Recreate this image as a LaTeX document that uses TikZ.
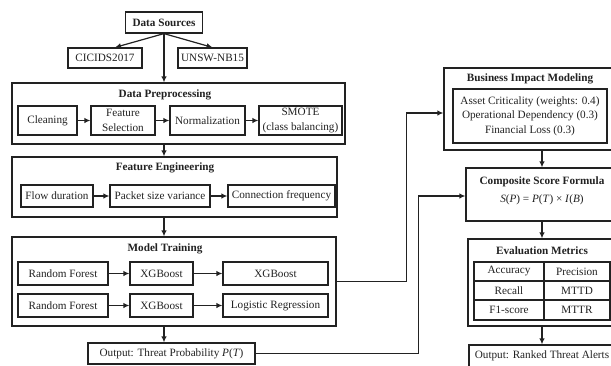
\documentclass[tikz,border=0pt]{standalone}
\usepackage{fontspec}
\setmainfont{Liberation Serif}
\usetikzlibrary{arrows.meta}
\definecolor{ink}{HTML}{222222}
\tikzset{
  txt/.style={font=\fontsize{11.2}{14.5}\selectfont, text=ink, align=center, inner sep=0pt},
  box/.style={txt, draw=ink, line width=1.2pt},
  frame/.style={draw=ink, line width=1.2pt, inner sep=0pt},
  ttl/.style={txt, font=\fontsize{11.2}{14.5}\selectfont\bfseries},
  arr/.style={draw=ink, line width=1.2pt, -{Latex[length=6pt,width=5.5pt]}},
  cell/.style={box, minimum height=19pt}
}
\begin{document}
\begin{tikzpicture}[x=1pt,y=-1pt]
\useasboundingbox (0,0) rectangle (611,365);
\fill[white] (0,0) rectangle (611,365);
\clip (0,0) rectangle (611,365);

% ---- data sources ----
\node[box, font=\fontsize{11.2}{14.5}\selectfont\bfseries, minimum width=77pt, minimum height=21pt] (src) at (164,22.5) {Data Sources};
\node[box, minimum width=74pt, minimum height=20pt] (cic) at (105,58) {CICIDS2017};
\node[box, minimum width=69pt, minimum height=20pt] (unsw) at (212.5,58) {UNSW-NB15};

% ---- preprocessing stage ----
\node[frame, minimum width=333pt, minimum height=61pt] (pre) at (178.5,113.5) {};
\node[ttl] (preT) at (165,95) {Data Preprocessing};
\node[box, minimum width=59pt, minimum height=29pt] (clean) at (47.5,120.5) {Cleaning};
\node[box, minimum width=64pt, minimum height=29pt] (fsel) at (123,120.5) {Feature\\Selection};
\node[box, minimum width=75pt, minimum height=29pt] (norm) at (207.5,120.5) {Normalization};
\node[box, minimum width=83pt, minimum height=29pt] (smote) at (300.5,120.5) {SMOTE\\(class balancing)};

% ---- feature engineering stage ----
\node[frame, minimum width=325pt, minimum height=60pt] (fe) at (174.5,187) {};
\node[ttl] (feT) at (165,168) {Feature Engineering};
\node[box, minimum width=72pt, minimum height=22pt] (flow) at (57,196) {Flow duration};
\node[box, minimum width=100pt, minimum height=22pt] (pkt) at (160,196) {Packet size variance};
\node[box, minimum width=107pt, minimum height=22pt] (conn) at (281.5,196) {Connection frequency};

% ---- model training stage ----
\node[frame, minimum width=324pt, minimum height=89pt] (mt) at (174,281.5) {};
\node[ttl] (mtT) at (165,249) {Model Training};
\node[box, minimum width=90pt, minimum height=23pt] (rfA) at (63,273.5) {Random Forest};
\node[box, minimum width=63pt, minimum height=23pt] (xgA) at (161.5,273.5) {XGBoost};
\node[box, minimum width=105pt, minimum height=23pt] (xgB) at (275.5,273.5) {XGBoost};
\node[box, minimum width=90pt, minimum height=23pt] (rfB) at (63,305.5) {Random Forest};
\node[box, minimum width=63pt, minimum height=23pt] (xgC) at (161.5,305.5) {XGBoost};
\node[box, minimum width=105pt, minimum height=23pt] (lr) at (275.5,305.5) {Logistic Regression};

\node[box, minimum width=167pt, minimum height=21pt] (out1) at (171.5,353.5) {Output: Threat Probability \textit{P}(\textit{T})};

% ---- right column ----
\node[frame, minimum width=172pt, minimum height=82pt] (biz) at (530,109) {};
\node[ttl] (bizT) at (530,79) {Business Impact Modeling};
\node[box, minimum width=154pt, minimum height=54pt] (bizW) at (530,116) {Asset Criticality (weights: 0.4)\\Operational Dependency (0.3)\\Financial Loss (0.3)};

\node[frame, minimum width=152pt, minimum height=53pt] (comp) at (542,194.5) {};
\node[ttl] (compT) at (542,182) {Composite Score Formula};
\node[txt] (compF) at (542,200) {\textit{S}(\textit{P}) = \textit{P}(\textit{T}) × \textit{I}(\textit{B})};

\node[frame, minimum width=148pt, minimum height=87pt] (eval) at (542,282.5) {};
\node[ttl] (evalT) at (542,251) {Evaluation Metrics};
\node[cell, minimum width=70pt] (c11) at (509,271.5) {Accuracy};
\node[cell, minimum width=66pt] (c12) at (577,271.5) {Precision};
\node[cell, minimum width=70pt] (c21) at (509,290.5) {Recall};
\node[cell, minimum width=66pt] (c22) at (577,290.5) {MTTD};
\node[cell, minimum width=70pt, minimum height=20pt] (c31) at (509,310) {F1-score};
\node[cell, minimum width=66pt, minimum height=20pt] (c32) at (577,310) {MTTR};

\node[box, minimum width=146pt, minimum height=22pt] (out2) at (542,356) {Output: Ranked Threat Alerts};

% ---- connectors ----
\draw[arr] (src.south) -- ([xshift=10pt]cic.north);
\draw[arr] (src.south) -- (unsw.north);
\draw[arr] (src.south) -- (src.south |- pre.north);
\draw[arr] (clean) -- (fsel);
\draw[arr] (fsel) -- (norm);
\draw[arr] (norm) -- (smote);
\draw[arr] (pre.south -| src.south) -- (fe.north -| src.south);
\draw[arr] (flow) -- (pkt);
\draw[arr] (pkt) -- (conn);
\draw[arr] (fe.south -| src.south) -- (mt.north -| src.south);
\draw[arr] (rfA) -- (xgA);
\draw[arr] (xgA) -- (xgB);
\draw[arr] (rfB) -- (xgC);
\draw[arr] (xgC) -- (lr);
\draw[arr] (mt.south -| src.south) -- (out1.north -| src.south);

\draw[arr] (mt.east) -- ++(70,0) |- ([yshift=-4pt]biz.west);
\draw[arr] (out1.east) -- ++(163,0) |- ([yshift=-1.5pt]comp.west);
\draw[arr] (biz.south -| comp.north) -- (comp.north);
\draw[arr] (comp.south) -- (eval.north);
\draw[arr] (eval.south) -- (out2.north);
\end{tikzpicture}
\end{document}
